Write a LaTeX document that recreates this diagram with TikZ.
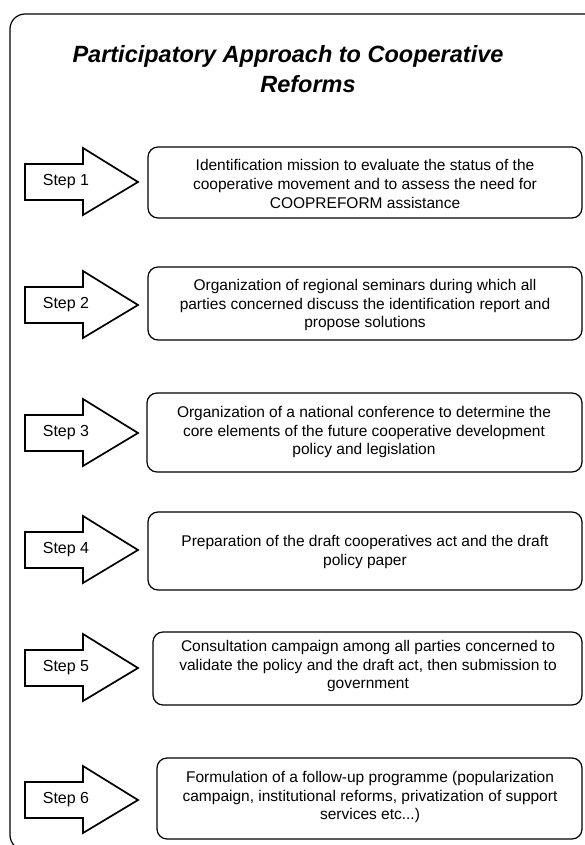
\documentclass[tikz,border=0pt]{standalone}
\usepackage{fontspec}
\setmainfont{Liberation Sans}
\begin{document}
\begin{tikzpicture}[x=1pt,y=-1pt,
  frame/.style={draw=black,line width=1.2pt,rounded corners=15pt},
  stepbox/.style={draw=black,line width=1.2pt,rounded corners=10pt,fill=white},
  boxtext/.style={align=center,inner sep=0pt,font=\fontsize{15.5}{18.6}\selectfont},
  arrowshape/.style={draw=black,line width=1.7pt,line join=miter,fill=white},
  steplabel/.style={inner sep=0pt,font=\fontsize{16}{18}\selectfont},
  titletext/.style={inner sep=0pt,anchor=base,font=\fontsize{23.5}{28}\selectfont\bfseries\itshape}
]
\useasboundingbox (0,0) rectangle (585,845);
\fill[white] (0,0) rectangle (585,845);
\draw[frame] (10,14) rectangle (640,850);

\node[titletext] (title1) at (288,63) {Participatory Approach to Cooperative};
\node[titletext] (title2) at (308,93) {Reforms};

% arrows: tip y positions
\foreach \t/\n in {182/1,305/2,433/3,550/4,668/5,800/6}{
  \draw[arrowshape] (25,\t-18) -- (83,\t-18) -- (83,\t-34) -- (138,\t) -- (83,\t+33) -- (83,\t+18) -- (25,\t+18) -- cycle;
  \node[steplabel] (s\n) at (66,\t) {Step \n};
}

% boxes
\draw[stepbox] (148,147) rectangle (582,218);
\node[boxtext] (t1) at (365,184) {Identification mission to evaluate the status of the\\cooperative movement and to assess the need for\\COOPREFORM assistance};

\draw[stepbox] (148,267) rectangle (582,340);
\node[boxtext] (t2) at (365,305) {Organization of regional seminars during which all\\parties concerned discuss the identification report and\\propose solutions};

\draw[stepbox] (147,393) rectangle (582,472);
\node[boxtext] (t3) at (364,432) {Organization of a national conference to determine the\\core elements of the future cooperative development\\policy and legislation};

\draw[stepbox] (148,512) rectangle (582,590);
\node[boxtext] (t4) at (365,552) {Preparation of the draft cooperatives act and the draft\\policy paper};

\draw[stepbox] (153,632) rectangle (582,705);
\node[boxtext] (t5) at (368,666) {Consultation campaign among all parties concerned to\\validate the policy and the draft act, then submission to\\government};

\draw[stepbox] (157,758) rectangle (582,839);
\node[boxtext] (t6) at (370,797) {Formulation of a follow-up programme (popularization\\campaign, institutional reforms, privatization of support\\services etc...)};
\end{tikzpicture}
\end{document}
